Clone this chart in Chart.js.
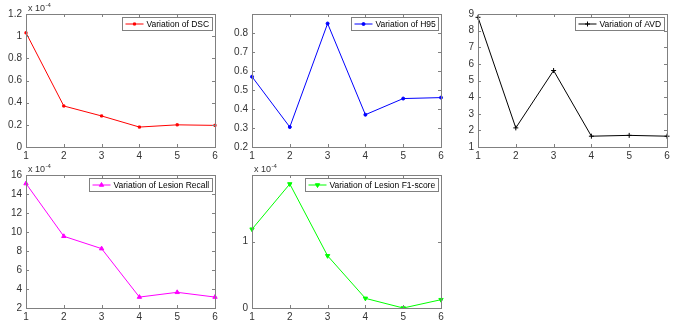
<!DOCTYPE html>
<html>
<head>
<meta charset="utf-8">
<script src="https://cdn.jsdelivr.net/npm/chart.js@4.4.1/dist/chart.umd.min.js"></script>
<style>
  html, body { margin: 0; padding: 0; background: #fff; }
  #wrap { position: relative; width: 675px; height: 325px; overflow: hidden; background: #fff; }
  #wrap div { position: absolute; }
</style>
</head>
<body>
<div id="wrap">
  <div style="left:0px;top:0px;width:223px;height:163px"><canvas id="cDsc"></canvas></div>
  <div style="left:226px;top:0px;width:223px;height:163px"><canvas id="cH95"></canvas></div>
  <div style="left:452px;top:0px;width:223px;height:163px"><canvas id="cAvd"></canvas></div>
  <div style="left:0px;top:161px;width:223px;height:163px"><canvas id="cRecall"></canvas></div>
  <div style="left:226px;top:161px;width:223px;height:163px"><canvas id="cF1"></canvas></div>
</div>
<script>
// x positions (iterations)
const steps = ['1', '2', '3', '4', '5', '6'];

// values; the x 10^-4 panels keep the mantissa
const dscVals = [1.03, 0.37, 0.28, 0.18, 0.20, 0.195];
const h95Vals = [0.57, 0.305, 0.85, 0.37, 0.455, 0.46];
const avdVals = [8.8, 2.15, 5.6, 1.65, 1.7, 1.65];
const recallVals = [15.1, 9.55, 8.25, 3.15, 3.65, 3.15];
const f1Vals = [1.185, 1.865, 0.785, 0.145, 0.0, 0.125];

const FONT = "'Liberation Sans', Arial, sans-serif";
const AXIS_GREY = '#808080';
const TEXT_GREY = '#333333';

// frame + inward ticks like matlab "box on"
const framePlugin = {
  id: 'frame',
  afterDraw(chart) {
    const {ctx, chartArea: a, scales} = chart;
    ctx.save();
    ctx.strokeStyle = AXIS_GREY;
    ctx.lineWidth = 1;
    ctx.strokeRect(Math.round(a.left) + 0.5, Math.round(a.top) + 0.5,
                   Math.round(a.right - a.left), Math.round(a.bottom - a.top));
    const tl = 3;
    ctx.beginPath();
    scales.x.ticks.forEach((t, i) => {
      const x = Math.round(scales.x.getPixelForTick(i)) + 0.5;
      ctx.moveTo(x, a.bottom); ctx.lineTo(x, a.bottom - tl);
      ctx.moveTo(x, a.top); ctx.lineTo(x, a.top + tl);
    });
    scales.y.ticks.forEach((t, i) => {
      const y = Math.round(scales.y.getPixelForTick(i)) + 0.5;
      ctx.moveTo(a.left, y); ctx.lineTo(a.left + tl, y);
      ctx.moveTo(a.right, y); ctx.lineTo(a.right - tl, y);
    });
    ctx.stroke();

    // exponent label
    const opts = chart.options.plugins.frame || {};
    if (opts.exponent) {
      ctx.fillStyle = TEXT_GREY;
      ctx.textBaseline = 'alphabetic';
      ctx.textAlign = 'left';
      ctx.font = '9px ' + FONT;
      const x0 = a.left + 2, y0 = a.top - 3;
      ctx.fillText('x 10', x0, y0);
      const w = ctx.measureText('x 10').width;
      ctx.font = '6px ' + FONT;
      ctx.fillText(opts.exponent, x0 + w + 0.5, y0 - 4);
    }

    // legend box in the top right corner
    if (opts.legendText) {
      const ds = chart.data.datasets[0];
      ctx.font = '8.5px ' + FONT;
      const tw = ctx.measureText(opts.legendText).width;
      const h = 13, lineLen = 18;
      const w = 3 + lineLen + 3 + tw + 3;
      const bx = Math.round(a.right - 3 - w) + 0.5;
      const by = Math.round(a.top + 3) + 0.5;
      ctx.fillStyle = '#fff';
      ctx.fillRect(bx, by, w, h);
      ctx.strokeStyle = AXIS_GREY;
      ctx.strokeRect(bx, by, Math.round(w), h);
      const ly = by + h / 2;
      ctx.strokeStyle = ds.borderColor;
      ctx.beginPath();
      ctx.moveTo(bx + 3, ly); ctx.lineTo(bx + 3 + lineLen, ly);
      ctx.stroke();
      ctx.fillStyle = ds.borderColor;
      Chart.helpers.drawPoint(ctx, {
        pointStyle: ds.pointStyle, rotation: ds.pointRotation || 0,
        radius: ds.pointRadius, borderWidth: 1
      }, bx + 3 + lineLen / 2, ly);
      ctx.fillStyle = '#000';
      ctx.textBaseline = 'middle';
      ctx.fillText(opts.legendText, bx + 3 + lineLen + 3, ly + 0.5);
    }
    ctx.restore();
  }
};

function makePanel(id, vals, color, style, rot, radius, yMin, yMax, yStep, hideAbove, legendText, exponent) {
  new Chart(document.getElementById(id), {
    type: 'line',
    data: {
      labels: steps,
      datasets: [{
        data: vals,
        borderColor: color,
        backgroundColor: color,
        borderWidth: 1,
        pointStyle: style,
        pointRotation: rot,
        pointRadius: radius,
        pointBorderWidth: 1,
        tension: 0
      }]
    },
    options: {
      responsive: true,
      maintainAspectRatio: false,
      animation: false,
      layout: { padding: { top: 14, right: 8, left: 0, bottom: 0 } },
      plugins: {
        legend: { display: false },
        tooltip: { enabled: false },
        frame: { legendText: legendText, exponent: exponent }
      },
      scales: {
        x: {
          offset: false,
          grid: { display: false, drawTicks: false },
          border: { display: false },
          ticks: { color: TEXT_GREY, font: { family: FONT, size: 10 }, padding: 3, maxRotation: 0 },
          afterFit(s) { s.height = 16; }
        },
        y: {
          min: yMin, max: yMax,
          grid: { display: false, drawTicks: false },
          border: { display: false },
          ticks: {
            stepSize: yStep,
            color: TEXT_GREY,
            font: { family: FONT, size: 10 },
            padding: 4,
            callback: v => (hideAbove !== null && v > hideAbove) ? '' : String(+v.toFixed(2))
          },
          afterFit(s) { s.width = 26; }
        }
      }
    },
    plugins: [framePlugin]
  });
}

makePanel('cDsc', dscVals, '#ff0000', 'rect', 0, 1.5, 0, 1.2, 0.2, null, 'Variation of DSC', '-4');
makePanel('cH95', h95Vals, '#0000ff', 'circle', 0, 1.5, 0.2, 0.9, 0.1, 0.85, 'Variation of H95', null);
makePanel('cAvd', avdVals, '#000000', 'cross', 0, 2.5, 1, 9, 1, null, 'Variation of AVD', null);
makePanel('cRecall', recallVals, '#ff00ff', 'triangle', 0, 2.5, 2, 16, 2, null, 'Variation of Lesion Recall', '-4');
makePanel('cF1', f1Vals, '#00ff00', 'triangle', 180, 2.5, 0, 2, 1, 1.5, 'Variation of Lesion F1-score', '-4');
</script>
</body>
</html>
